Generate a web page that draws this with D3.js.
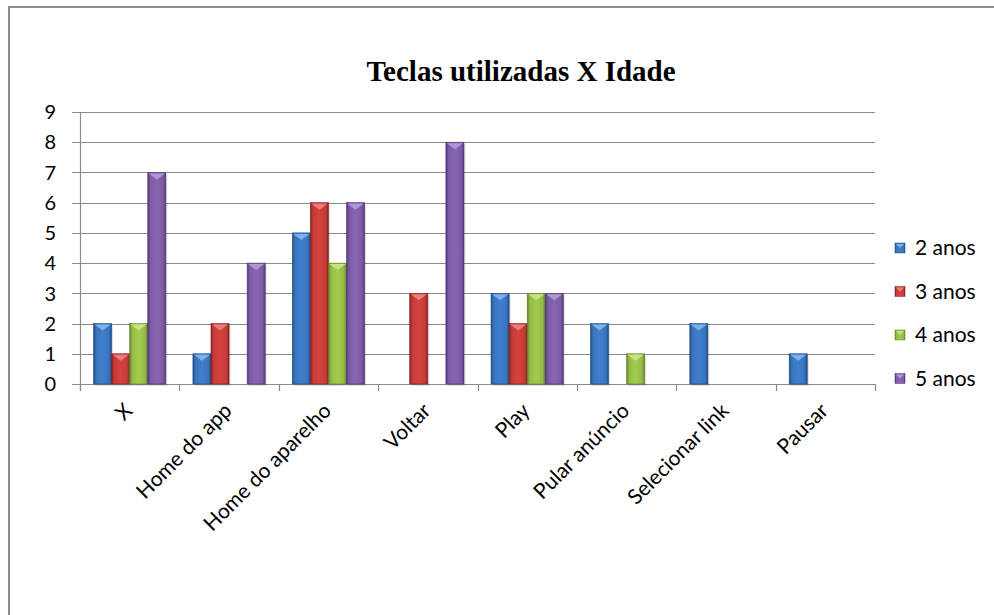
<!DOCTYPE html>
<html>
<head>
<meta charset="utf-8">
<script src="https://cdn.jsdelivr.net/npm/d3@7"></script>
<style>
  body { margin: 0; background: #fff; }
  svg { display: block; }
  .tick-label { font-family: Lato, "Noto Sans", sans-serif; fill: #000; }
</style>
</head>
<body>
<div id="chart"></div>
<script>
const categories = ["X", "Home do app", "Home do aparelho", "Voltar", "Play", "Pular anúncio", "Selecionar link", "Pausar"];
const seriesNames = ["2 anos", "3 anos", "4 anos", "5 anos"];
const anos2 = [2, 1, 5, 0, 3, 2, 2, 1];
const anos3 = [1, 2, 6, 3, 2, 0, 0, 0];
const anos4 = [2, 0, 4, 0, 3, 1, 0, 0];
const anos5 = [7, 4, 6, 8, 3, 0, 0, 0];
const yTicks = [0, 1, 2, 3, 4, 5, 6, 7, 8, 9];

const seriesValues = [anos2, anos3, anos4, anos5];
const colors = ["#3a74bd", "#c43c39", "#95bb47", "#7d5ca3"];
const darks = ["#1f4e85", "#8a1f1d", "#62822a", "#513878"];
const lights = ["#7fb0ea", "#ea7d79", "#c6e57f", "#b096d6"];

const width = 994, height = 615;
const margin = { top: 112, right: 119, bottom: 231, left: 80 };
const innerWidth = width - margin.left - margin.right;
const innerHeight = height - margin.top - margin.bottom;

const svg = d3.select("#chart").append("svg")
  .attr("width", width)
  .attr("height", height);

// frame (only top and left edges are visible in the crop)
svg.append("path")
  .attr("d", `M9,${height} L9,7 L${width},7`)
  .attr("fill", "none")
  .attr("stroke", "#8c8c8c")
  .attr("stroke-width", 2);

// gradients
const defs = svg.append("defs");
colors.forEach((c, i) => {
  const gr = defs.append("linearGradient")
    .attr("id", "grad" + i)
    .attr("x1", "0").attr("x2", "1").attr("y1", "0").attr("y2", "0");
  gr.append("stop").attr("offset", "0").attr("stop-color", darks[i]);
  gr.append("stop").attr("offset", "0.15").attr("stop-color", c);
  gr.append("stop").attr("offset", "0.5").attr("stop-color", d3.color(c).brighter(0.25));
  gr.append("stop").attr("offset", "0.85").attr("stop-color", c);
  gr.append("stop").attr("offset", "1").attr("stop-color", darks[i]);
});

const g = svg.append("g")
  .attr("transform", `translate(${margin.left},${margin.top})`);

const x0 = d3.scaleBand()
  .domain(categories)
  .range([0, innerWidth])
  .paddingInner(0)
  .paddingOuter(0);

const x1 = d3.scaleBand()
  .domain(seriesNames)
  .range([0, x0.bandwidth()])
  .paddingInner(0)
  .paddingOuter(0.75);

const y = d3.scaleLinear()
  .domain([0, 9])
  .range([innerHeight, 0]);

// gridlines
g.append("g")
  .selectAll("line")
  .data(yTicks)
  .join("line")
  .attr("x1", -8).attr("x2", innerWidth)
  .attr("y1", d => Math.round(y(d)) + 0.5)
  .attr("y2", d => Math.round(y(d)) + 0.5)
  .attr("stroke", "#8a8a8a")
  .attr("stroke-width", 1.2);

// y axis line
g.append("line")
  .attr("x1", 0.5).attr("x2", 0.5)
  .attr("y1", 0).attr("y2", innerHeight + 6)
  .attr("stroke", "#8a8a8a")
  .attr("stroke-width", 1.2);

// y labels
g.append("g")
  .selectAll("text")
  .data(yTicks)
  .join("text")
  .attr("class", "tick-label")
  .attr("x", -24)
  .attr("y", d => y(d))
  .attr("dy", "0.36em")
  .attr("text-anchor", "end")
  .style("font-size", "20px")
  .text(d => d);

// category ticks
g.append("g")
  .selectAll("line")
  .data(d3.range(categories.length + 1))
  .join("line")
  .attr("x1", i => Math.round(i * x0.step()) + 0.5)
  .attr("x2", i => Math.round(i * x0.step()) + 0.5)
  .attr("y1", innerHeight)
  .attr("y2", innerHeight + 7)
  .attr("stroke", "#8a8a8a")
  .attr("stroke-width", 1.2);

// bars
const groups = g.selectAll(".cat")
  .data(categories)
  .join("g")
  .attr("class", "cat")
  .attr("transform", d => `translate(${x0(d)},0)`);

groups.each(function(cat, ci) {
  const grp = d3.select(this);
  seriesNames.forEach((s, si) => {
    const v = seriesValues[si][ci];
    if (!v) return;
    const bx = x1(s), bw = x1.bandwidth();
    const top = y(v);
    grp.append("rect")
      .attr("x", bx + 1.5).attr("y", top + 2)
      .attr("width", bw).attr("height", innerHeight - top)
      .attr("fill", "#000").attr("opacity", 0.12);
    grp.append("rect")
      .attr("x", bx).attr("y", top)
      .attr("width", bw).attr("height", innerHeight - top)
      .attr("fill", `url(#grad${si})`)
      .attr("stroke", darks[si])
      .attr("stroke-width", 0.6);
    grp.append("path")
      .attr("d", `M${bx + 1},${top + 1} L${bx + bw - 1},${top + 1} L${bx + bw / 2},${top + Math.min(7, (innerHeight - top) / 2)} Z`)
      .attr("fill", lights[si]);
  });
});

// x labels
g.append("g")
  .selectAll("text")
  .data(categories)
  .join("text")
  .attr("class", "tick-label")
  .attr("text-anchor", "end")
  .attr("transform", d => `translate(${x0(d) + x0.bandwidth() / 2 + 4},${innerHeight + 28}) rotate(-45)`)
  .style("font-size", "21px")
  .text(d => d);

// title
svg.append("text")
  .attr("x", 521)
  .attr("y", 81)
  .attr("text-anchor", "middle")
  .style("font-family", "'Liberation Serif', 'Times New Roman', serif")
  .style("font-weight", "bold")
  .style("font-size", "29px")
  .text("Teclas utilizadas X Idade");

// legend
const legend = svg.append("g")
  .attr("transform", "translate(895,248)");

seriesNames.forEach((s, i) => {
  const item = legend.append("g")
    .attr("transform", `translate(0,${i * 43.5})`);
  item.append("rect")
    .attr("x", 0).attr("y", -5)
    .attr("width", 10).attr("height", 10)
    .attr("fill", `url(#grad${i})`)
    .attr("stroke", darks[i])
    .attr("stroke-width", 0.5);
  item.append("path")
    .attr("d", "M1,-4 L9,-4 L5,0 Z")
    .attr("fill", lights[i]);
  item.append("text")
    .attr("class", "tick-label")
    .attr("x", 20)
    .attr("y", 0)
    .attr("dy", "0.35em")
    .style("font-size", "21px")
    .text(s);
});
</script>
</body>
</html>
